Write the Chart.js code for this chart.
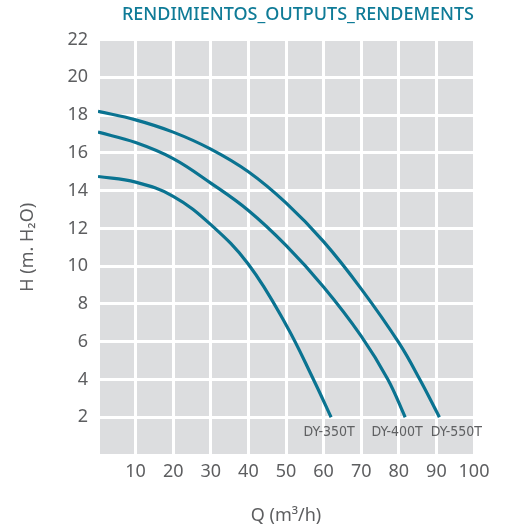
<!DOCTYPE html>
<html>
<head>
<meta charset="utf-8">
<script src="https://cdn.jsdelivr.net/npm/chart.js@4"></script>
<style>
  html, body { margin: 0; padding: 0; background: #fff; }
  #wrap { width: 513px; height: 529px; }
</style>
</head>
<body>
<div id="wrap"><canvas id="curvas" width="513" height="529"></canvas></div>
<script>
// Q (m3/h) and H (m)
const q350 = [0, 10, 20, 30, 40, 50, 57.3, 62];
const h350 = [14.75, 14.45, 13.7, 12.2, 10.1, 6.9, 4.0, 2.0];
const q400 = [0, 10, 20, 30, 40, 50, 60, 70, 77.1, 81.7];
const h400 = [17.1, 16.55, 15.7, 14.4, 12.95, 11.1, 8.9, 6.3, 4.0, 2.0];
const q550 = [0, 10, 20, 30, 40, 50, 60, 70, 80, 85.6, 90.8];
const h550 = [18.2, 17.75, 17.1, 16.2, 15.0, 13.35, 11.3, 8.8, 5.95, 4.0, 2.0];
const modelos = ['DY-350T', 'DY-400T', 'DY-550T'];
const xTicks = [10, 20, 30, 40, 50, 60, 70, 80, 90, 100];
const yTicks = [2, 4, 6, 8, 10, 12, 14, 16, 18, 20, 22];

const azul = '#0a7391';
const gris = '#5d5e60';

function puntos(qs, hs) {
    return qs.map((q, i) => ({ x: q, y: hs[i] }));
}

// gray plot area
const fondo = {
    id: 'fondo',
    beforeDraw(chart) {
        const a = chart.chartArea;
        const c = chart.ctx;
        c.save();
        c.fillStyle = '#dcdddf';
        c.fillRect(a.left, a.top, a.right - a.left, a.bottom - a.top);
        c.restore();
    }
};

// model names under the end of each curve
const nombres = {
    id: 'nombres',
    afterDatasetsDraw(chart) {
        const c = chart.ctx;
        c.save();
        c.font = '14px "Liberation Sans Narrow", "DejaVu Sans Condensed", sans-serif';
        c.fillStyle = '#5f6062';
        c.textAlign = 'center';
        c.textBaseline = 'middle';
        chart.data.datasets.forEach((ds, i) => {
            const last = ds.data[ds.data.length - 1];
            const x = chart.scales.x.getPixelForValue(last.x);
            const y = chart.scales.y.getPixelForValue(last.y);
            c.fillText(ds.label, x + [-2, -8, 17][i], y + 15);
        });
        c.restore();
    }
};

document.addEventListener('DOMContentLoaded', function () {
    const ctx = document.getElementById('curvas');

    new Chart(ctx, {
        type: 'line',
        data: {
            datasets: [
                { label: modelos[0], data: puntos(q350, h350) },
                { label: modelos[1], data: puntos(q400, h400) },
                { label: modelos[2], data: puntos(q550, h550) }
            ].map(d => Object.assign(d, {
                borderColor: azul,
                borderWidth: 3.2,
                pointRadius: 0,
                fill: false,
                tension: 0.4
            }))
        },
        options: {
            responsive: false,
            animation: false,
            layout: { padding: { left: 0, right: 39, top: 0, bottom: 0 } },
            plugins: {
                legend: { display: false },
                tooltip: { enabled: false },
                title: {
                    display: true,
                    text: 'RENDIMIENTOS_OUTPUTS_RENDEMENTS',
                    align: 'end',
                    color: '#0f7b97',
                    font: { family: '"Noto Sans"', size: 18, weight: '500' },
                    padding: { top: 4, bottom: 14 }
                }
            },
            scales: {
                x: {
                    type: 'linear',
                    min: 0,
                    max: 100,
                    border: { display: false },
                    grid: { color: '#ffffff', lineWidth: 3, drawTicks: false },
                    afterBuildTicks: s => { s.ticks = [0].concat(xTicks).map(v => ({ value: v })); },
                    afterFit: s => { s.height = 74; },
                    ticks: {
                        padding: 6,
                        color: gris,
                        font: { family: '"Noto Sans"', size: 18 },
                        callback: v => (v === 0 ? '' : v)
                    },
                    title: {
                        display: true,
                        text: 'Q (m³/h)',
                        color: gris,
                        font: { family: '"Noto Sans"', size: 18 },
                        padding: { top: 0, bottom: 2 }
                    }
                },
                y: {
                    min: 0,
                    max: 22,
                    border: { display: false },
                    grid: { color: '#ffffff', lineWidth: 3, drawTicks: false },
                    afterBuildTicks: s => { s.ticks = [0].concat(yTicks).map(v => ({ value: v })); },
                    afterFit: s => { s.width = 98; },
                    ticks: {
                        padding: 10,
                        color: gris,
                        font: { family: '"Noto Sans"', size: 18 },
                        callback: v => (v === 0 ? '' : v)
                    },
                    title: {
                        display: true,
                        text: 'H (m. H₂O)',
                        color: gris,
                        font: { family: '"Noto Sans"', size: 18 },
                        padding: { top: 17, bottom: 0 }
                    }
                }
            }
        },
        plugins: [fondo, nombres]
    });
});
</script>
</body>
</html>
